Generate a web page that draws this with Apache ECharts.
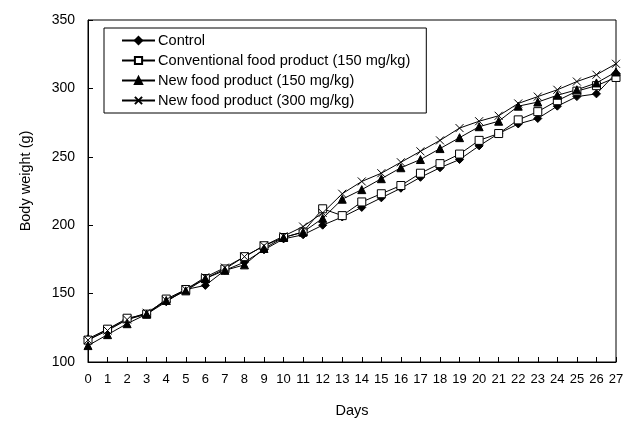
<!DOCTYPE html>
<html>
<head>
<meta charset="utf-8">
<script src="https://cdn.jsdelivr.net/npm/echarts@6/dist/echarts.min.js"></script>
<style>
    html, body { margin: 0; padding: 0; background: #fff; }
    #weight_chart { width: 632px; height: 423px; }
</style>
</head>
<body>
<div id="weight_chart"></div>
<script>
    // days 0..27
    const days = [0, 1, 2, 3, 4, 5, 6, 7, 8, 9, 10, 11, 12, 13, 14, 15, 16, 17, 18, 19, 20, 21, 22, 23, 24, 25, 26, 27];
    const control = [117, 124, 131, 135, 144, 153, 156, 167, 173, 182, 190, 193, 200, 206, 213, 220, 227, 235, 242, 248, 258, 267, 274, 278, 287, 294, 296, 311];
    const conventional150 = [116, 124, 132, 135, 146, 153, 161, 168, 177, 185, 191, 195, 212, 207, 217, 223, 229, 238, 245, 252, 262, 267, 277, 283, 291, 298, 302, 308];
    const newFood150 = [112, 120, 128, 135, 145, 152, 161, 167, 171, 183, 191, 195, 205, 219, 226, 234, 242, 248, 256, 264, 272, 276, 287, 290, 295, 299, 304, 312];
    const newFood300 = [116, 123, 131, 136, 145, 153, 162, 169, 177, 185, 192, 199, 209, 223, 232, 238, 246, 254, 262, 271, 276, 280, 289, 294, 299, 305, 310, 318];
    const yTicks = [100, 150, 200, 250, 300, 350];

    const font = "'Liberation Sans', Arial, sans-serif";
    const pairs = function (arr) {
        return days.map(function (d, i) { return [d, arr[i]]; });
    };
    const mkSeries = function (name, arr, symbol, fill) {
        return {
            name: name,
            type: 'line',
            data: pairs(arr),
            symbol: symbol,
            symbolSize: 8,
            showSymbol: true,
            animation: false,
            lineStyle: { color: '#000', width: 1 },
            itemStyle: { color: fill, borderColor: '#000', borderWidth: 1 }
        };
    };

    const option = {
        backgroundColor: '#fff',
        textStyle: { fontFamily: font, color: '#000' },
        legend: {
            orient: 'vertical',
            left: 104,
            top: 28,
            padding: [5, 16, 5, 17],
            itemWidth: 33,
            itemHeight: 9,
            itemGap: 5,
            borderColor: '#000',
            borderWidth: 1,
            textStyle: { fontFamily: font, fontSize: 14.6, color: '#000', padding: [0, 0, 0, -2] },
            data: ['Control', 'Conventional food product (150 mg/kg)', 'New food product (150 mg/kg)', 'New food product (300 mg/kg)']
        },
        grid: {
            left: 88,
            right: 16,
            top: 20,
            bottom: 61,
            show: true,
            borderColor: '#000',
            borderWidth: 1
        },
        xAxis: {
            type: 'value',
            min: 0,
            max: 27,
            interval: 1,
            name: 'Days',
            nameLocation: 'middle',
            nameGap: 41,
            nameTextStyle: { fontFamily: font, fontSize: 14.5, color: '#000' },
            axisLine: { lineStyle: { color: '#000', width: 1 } },
            axisTick: { inside: true, length: 5, lineStyle: { color: '#000' } },
            axisLabel: { fontFamily: font, fontSize: 13, color: '#000', margin: 11 },
            splitLine: { show: false }
        },
        yAxis: {
            type: 'value',
            min: yTicks[0],
            max: yTicks[yTicks.length - 1],
            interval: 50,
            name: 'Body weight (g)',
            nameLocation: 'middle',
            nameGap: 55,
            nameTextStyle: { fontFamily: font, fontSize: 14.5, color: '#000', padding: [0, 0, 0, 20] },
            axisLine: { show: true, lineStyle: { color: '#000', width: 1 } },
            axisTick: { show: true, inside: true, length: 5, lineStyle: { color: '#000' } },
            axisLabel: { fontFamily: font, fontSize: 14, color: '#000', margin: 13 },
            splitLine: { show: false }
        },
        series: [
            mkSeries('Control', control, 'diamond', '#000'),
            mkSeries('Conventional food product (150 mg/kg)', conventional150, 'rect', '#fff'),
            mkSeries('New food product (150 mg/kg)', newFood150, 'triangle', '#000'),
            mkSeries('New food product (300 mg/kg)', newFood300, 'path://M0,0L10,10M10,0L0,10', '#000')
        ]
    };
    const weightChart = echarts.init(document.getElementById('weight_chart'));
    weightChart.setOption(option);
    window.addEventListener('resize', function () {
        weightChart.resize();
    });
</script>
</body>
</html>
